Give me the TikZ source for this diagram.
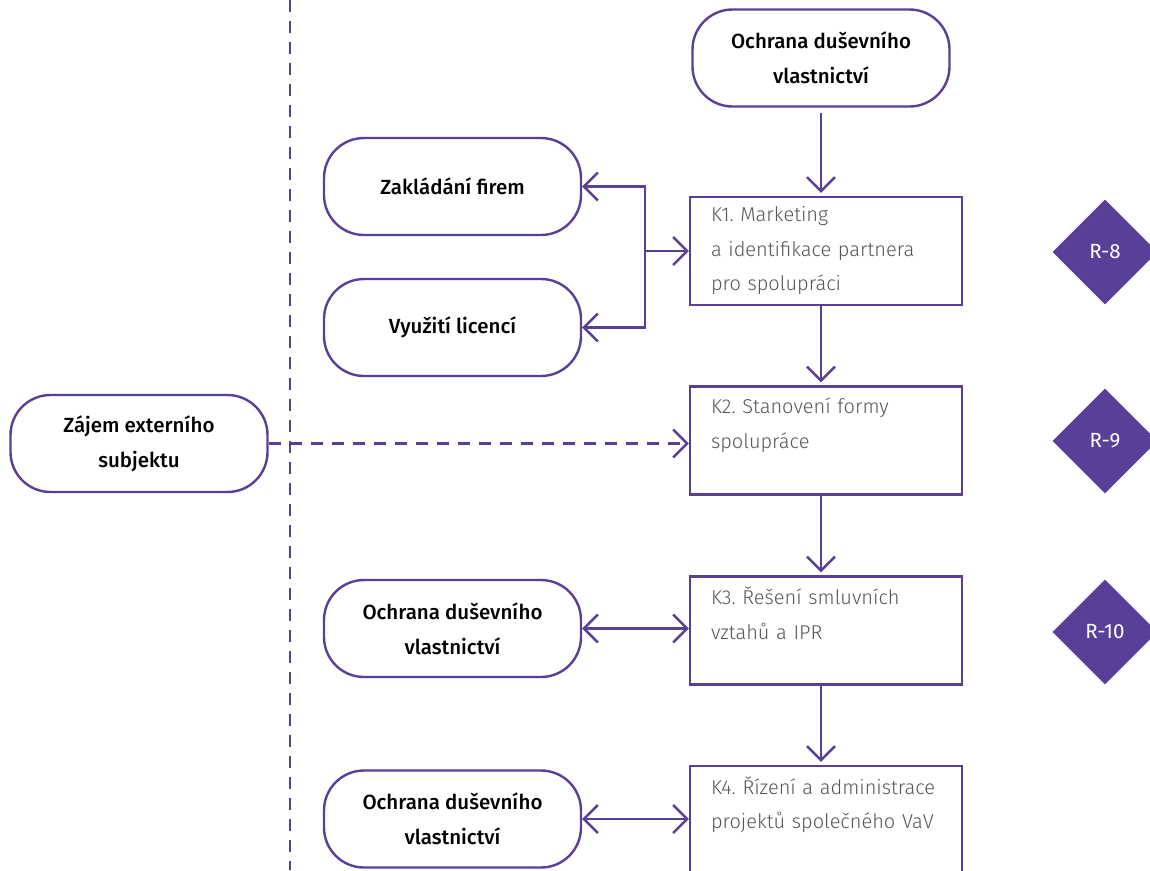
\documentclass[tikz,border=0pt]{standalone}
\usepackage{fontspec}
\setmainfont{Fira Sans}
\newfontfamily\lehke{Fira Sans Light}
\newfontfamily\stredni{Fira Sans Medium}
\usetikzlibrary{arrows.meta,shapes.geometric}
\definecolor{fialova}{HTML}{5A3F98}
\definecolor{seda}{HTML}{555555}

\begin{document}
\frenchspacing
\begin{tikzpicture}[x=1pt,y=-1pt,
	oval/.style={draw=fialova,line width=2.4pt,rounded corners=40pt,minimum width=257pt,minimum height=97pt,align=center,font=\stredni\fontsize{20.5}{35}\selectfont},
	krok/.style={draw=fialova,line width=2.4pt,minimum width=272pt,minimum height=108pt,inner xsep=21pt,text width=230pt,align=left,text=seda,font=\lehke\fontsize{20}{34.5}\selectfont},
	riziko/.style={diamond,fill=fialova,minimum width=105pt,minimum height=105pt,inner sep=0pt,text=white,font=\fontsize{20.5}{20}\selectfont},
	hrot/.tip={Straight Barb[length=14pt,width=28pt,line width=2.4pt]},
	sipka/.style={draw=fialova,line width=2.4pt,-hrot},
	obousipka/.style={draw=fialova,line width=2.4pt,hrot-hrot},
	carkovane/.style={draw=fialova,line width=2.4pt,dash pattern=on 12pt off 9pt}]
		\useasboundingbox (0,0) rectangle (1150,870);

		%Uzly
		\node [oval] (ochrana1) at (821,58) {Ochrana duševního\\vlastnictví};
		\node [krok] (k1) at (826,251) {K1. Marketing\\a identifikace partnera\\pro spolupráci};
		\node [krok] (k2) at (826,440.5) {K2. Stanovení formy\\spolupráce\\\mbox{}};
		\node [krok] (k3) at (826,630.5) {K3. Řešení smluvních\\vztahů a IPR\\\mbox{}};
		\node [krok] (k4) at (826,820) {K4. Řízení a administrace\\projektů společného VaV\\\mbox{}};
		\node [oval] (firmy) at (452.5,186.5) {Zakládání firem};
		\node [oval] (licence) at (452.5,327.5) {Využití licencí};
		\node [oval] (zajem) at (139,443.5) {Zájem externího\\subjektu};
		\node [oval] (ochrana3) at (452.5,628.5) {Ochrana duševního\\vlastnictví};
		\node [oval] (ochrana4) at (452.5,819) {Ochrana duševního\\vlastnictví};
		\node [riziko] (r8) at (1105,252) {R-8};
		\node [riziko] (r9) at (1105,441) {R-9};
		\node [riziko] (r10) at (1105,632) {R-10};
		\coordinate (vetev) at (645,251);
		\coordinate (hranice1) at (290,0);
		\coordinate (hranice2) at (290,870);

		%Spojnice
		\draw [carkovane] (hranice1)--(hranice2);
		\draw [sipka,shorten <=5pt,shorten >=3pt] (ochrana1.south)--(ochrana1.south |- k1.north);
		\draw [sipka,shorten >=3pt] (k1.south -| ochrana1)--(k2.north -| ochrana1);
		\draw [sipka,shorten >=3pt] (k2.south -| ochrana1)--(k3.north -| ochrana1);
		\draw [sipka,shorten >=3pt] (k3.south -| ochrana1)--(k4.north -| ochrana1);
		\draw [sipka] (vetev)--(k1.west);
		\draw [sipka] (vetev)|-(firmy.east);
		\draw [sipka] (vetev)|-(licence.east);
		\draw [sipka,dash pattern=on 12pt off 9pt] (zajem.east)--(zajem.east -| k2.west);
		\draw [obousipka] (ochrana3.east)--(ochrana3.east -| k3.west);
		\draw [obousipka] (ochrana4.east)--(ochrana4.east -| k4.west);
\end{tikzpicture}
\end{document}
